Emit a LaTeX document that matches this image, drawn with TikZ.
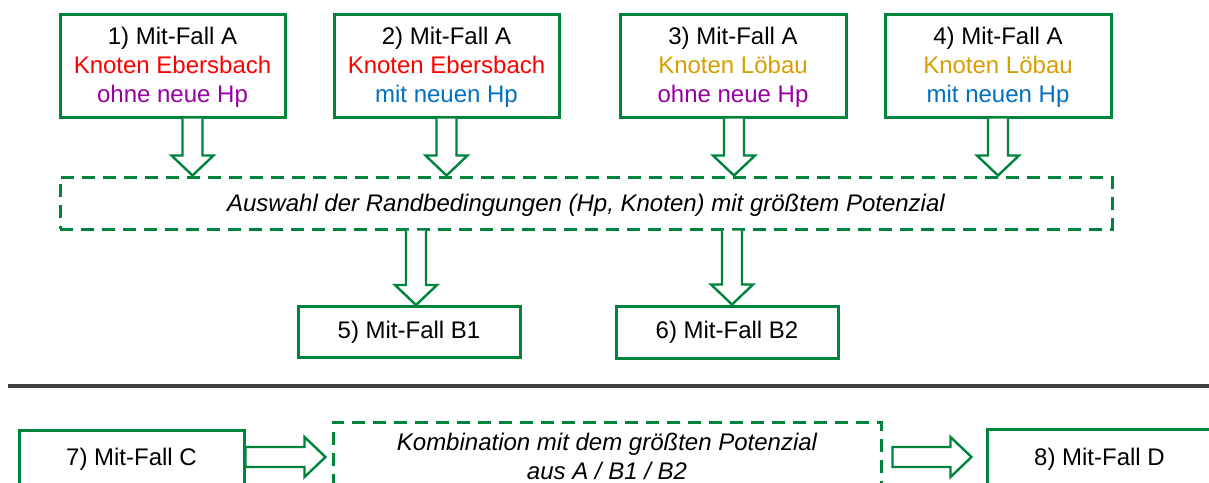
\documentclass[tikz,border=0pt]{standalone}
\usepackage{fontspec}
\setmainfont{Liberation Sans}
\usetikzlibrary{calc}
\definecolor{grn}{RGB}{0,132,61}
\definecolor{cred}{RGB}{255,0,0}
\definecolor{cpur}{RGB}{150,0,160}
\definecolor{cblu}{RGB}{0,112,192}
\definecolor{cgold}{RGB}{214,158,0}
\definecolor{rule}{RGB}{64,64,64}
\tikzset{
  solidbox/.style={draw=grn, line width=1.5pt, inner sep=0pt, align=center,
    font=\fontsize{12}{14.5}\selectfont},
  dashbox/.style={draw=grn, line width=1.5pt, inner sep=0pt, align=center,
    dash pattern=on 6.5pt off 4pt, font=\fontsize{12}{14.5}\selectfont\itshape},
  barrow/.style={draw=grn, line width=1.2pt, fill=white, line join=miter}
}
\newcommand{\lowered}[1]{\raisebox{-1.3pt}[\height][\depth]{\begin{tabular}{@{}c@{}}#1\end{tabular}}}
% vertical block arrow: shaft top y from #1, tip at #2 (x from #2)
\newcommand{\bardown}[2]{\draw[barrow] let \p1=(#1), \p2=(#2) in
  (\x2-5pt,\y1) -- (\x2-5pt,\y2+10pt) -- (\x2-10.5pt,\y2+10pt) -- (\x2,\y2)
  -- (\x2+10.5pt,\y2+10pt) -- (\x2+5pt,\y2+10pt) -- (\x2+5pt,\y1);}
% horizontal block arrow: shaft start x from #1, y from #1, tip at x of #2
\newcommand{\barright}[2]{\draw[barrow] let \p1=(#1), \p2=(#2) in
  (\x1,\y1-5pt) -- (\x2-10.5pt,\y1-5pt) -- (\x2-10.5pt,\y1-10pt) -- (\x2,\y1)
  -- (\x2-10.5pt,\y1+10pt) -- (\x2-10.5pt,\y1+5pt) -- (\x1,\y1+5pt) -- cycle;}
\begin{document}
\begin{tikzpicture}[x=0.5pt,y=-0.5pt]
\useasboundingbox (0,0) rectangle (1209,482);
% top row
\node[solidbox, minimum width=112.5pt, minimum height=51.5pt] (b1) at (172.5,65.5)
  {\lowered{1) Mit-Fall A\\\textcolor{cred}{Knoten Ebersbach}\\\textcolor{cpur}{ohne neue Hp}}};
\node[solidbox, minimum width=112.5pt, minimum height=51.5pt] (b2) at (446.5,65.5)
  {\lowered{2) Mit-Fall A\\\textcolor{cred}{Knoten Ebersbach}\\\textcolor{cblu}{mit neuen Hp}}};
\node[solidbox, minimum width=113pt, minimum height=51.5pt] (b3) at (733,65.5)
  {\lowered{3) Mit-Fall A\\\textcolor{cgold}{Knoten Löbau}\\\textcolor{cpur}{ohne neue Hp}}};
\node[solidbox, minimum width=113pt, minimum height=51.5pt] (b4) at (998,65.5)
  {\lowered{4) Mit-Fall A\\\textcolor{cgold}{Knoten Löbau}\\\textcolor{cblu}{mit neuen Hp}}};
% selection box
\node[dashbox, minimum width=526pt, minimum height=26pt] (sel) at (586,203)
  {\lowered{Auswahl der Randbedingungen (Hp, Knoten) mit größtem Potenzial}};
% B1 / B2
\node[solidbox, minimum width=111pt, minimum height=25.5pt] (b5) at (409,332) {5) Mit-Fall B1};
\node[solidbox, minimum width=111pt, minimum height=26pt] (b6) at (727,332) {6) Mit-Fall B2};
% arrows top
\bardown{b1.south}{$(b1.south |- sel.north)+(20,0)$}
\bardown{b2.south}{b2.south |- sel.north}
\bardown{b3.south}{$(b3.south |- sel.north)+(1,0)$}
\bardown{b4.south}{b4.south |- sel.north}
\bardown{sel.south}{$(b5.north)+(7,0)$}
\bardown{sel.south}{$(b6.north)+(5,0)$}
% separator
\coordinate (rl) at (8,386);
\coordinate (rr) at (1215,386);
\draw[rule, line width=2pt] (rl) -- (rr);
% bottom row
\node[solidbox, minimum width=112.5pt, minimum height=27pt] (b7) at (131.5,457) {\lowered{7) Mit-Fall C}};
\node[dashbox, minimum width=274pt, minimum height=35pt] (k) at (607,457)
  {\lowered{Kombination mit dem größten Potenzial\\aus A / B1 / B2}};
\node[solidbox, minimum width=112.5pt, minimum height=28pt] (b8) at (1099.5,457) {\lowered{8) Mit-Fall D}};
\barright{b7.east}{$(k.west)+(-6,0)$}
\barright{$(k.east)+(10,0)$}{$(b8.west)+(-14,0)$}
\end{tikzpicture}
\end{document}
